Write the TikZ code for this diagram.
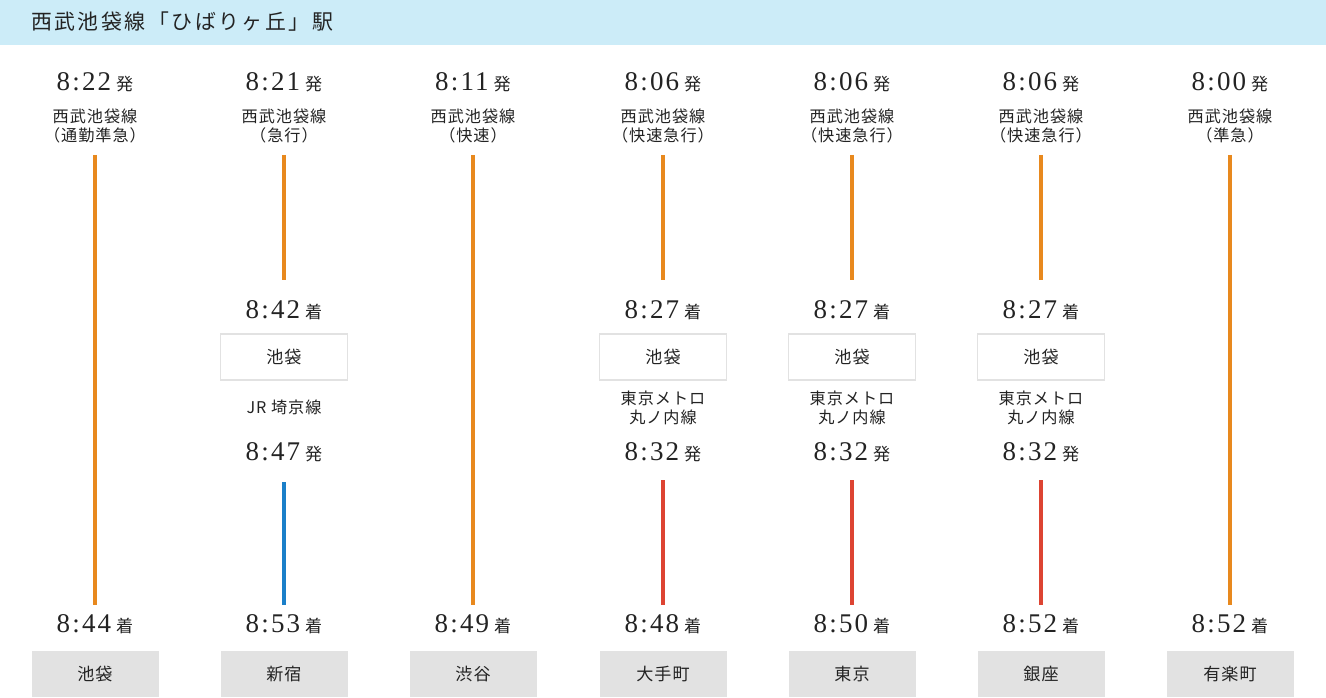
\documentclass[tikz,border=0pt]{standalone}
\usepackage{fontspec}
\setmainfont{Liberation Serif}[LetterSpace=8]
\newfontfamily\jp{Noto Sans CJK JP}[Scale=0.95,LetterSpace=6]
\newfontfamily\jpt{Noto Sans CJK JP}[Scale=0.95,LetterSpace=12]
\definecolor{hdr}{RGB}{204,236,248}
\definecolor{lor}{RGB}{232,137,30}
\definecolor{lbl}{RGB}{26,127,201}
\definecolor{lrd}{RGB}{221,68,50}
\definecolor{gbox}{RGB}{226,226,226}
\definecolor{tx}{RGB}{35,35,35}
\begin{document}
\begin{tikzpicture}[x=1pt,y=-1pt,
  tm/.style={text=tx,font=\fontsize{27}{27}\selectfont,inner sep=0},
  lab/.style={text=tx,font=\jp\fontsize{17}{19}\selectfont,align=center,inner sep=0},
  seg/.style={line width=4pt},
  wbox/.style={draw=gbox,line width=1.2pt,minimum width=127pt,minimum height=46pt,text=tx,font=\jp\fontsize{18}{18}\selectfont,inner sep=0},
  gb/.style={fill=gbox,minimum width=127pt,minimum height=46pt,text=tx,font=\jp\fontsize{18}{18}\selectfont,inner sep=0}]
\useasboundingbox (0,0) rectangle (1326,698);
\fill[hdr] (0,0) rectangle (1326,45);
\node[anchor=west,text=tx,font=\jpt\fontsize{22}{22}\selectfont,inner sep=0] (title) at (31,22) {西武池袋線「ひばりヶ丘」駅};
\newcommand\tme[2]{#1\hspace{5pt}{\jp\fontsize{18}{18}\selectfont #2}}
\foreach \i/\x/\dep/\typ/\arr/\dest in {1/95/8:22/通勤準急/8:44/池袋,3/473/8:11/快速/8:49/渋谷,7/1230/8:00/準急/8:52/有楽町}{
  \node[tm] (d\i) at (\x,82) {\tme{\dep}{発}};
  \node[lab] (l\i) at (\x,126) {西武池袋線\\（\typ）};
  \node[tm] (a\i) at (\x,624) {\tme{\arr}{着}};
  \node[gb] (b\i) at (\x,674) {\dest};
  \coordinate (s\i) at (\x,155); \coordinate (e\i) at (\x,605);
  \draw[seg,lor] (s\i) -- (e\i);
}
\node[tm] (d2) at (284,82) {\tme{8:21}{発}};
\node[lab] (l2) at (284,126) {西武池袋線\\（急行）};
\coordinate (s2) at (284,155); \coordinate (m2) at (284,280);
\draw[seg,lor] (s2) -- (m2);
\node[tm] (t2) at (284,310) {\tme{8:42}{着}};
\node[wbox] (x2) at (284,357) {池袋};
\node[lab] (r2) at (284,407) {JR 埼京線};
\node[tm] (u2) at (284,452) {\tme{8:47}{発}};
\coordinate (n2) at (284,482); \coordinate (e2) at (284,605);
\draw[seg,lbl] (n2) -- (e2);
\node[tm] (a2) at (284,624) {\tme{8:53}{着}};
\node[gb] (b2) at (284,674) {新宿};
\foreach \i/\x/\arr/\dest in {4/663/8:48/大手町,5/852/8:50/東京,6/1041/8:52/銀座}{
  \node[tm] (d\i) at (\x,82) {\tme{8:06}{発}};
  \node[lab] (l\i) at (\x,126) {西武池袋線\\（快速急行）};
  \coordinate (s\i) at (\x,155); \coordinate (m\i) at (\x,280);
  \draw[seg,lor] (s\i) -- (m\i);
  \node[tm] (t\i) at (\x,310) {\tme{8:27}{着}};
  \node[wbox] (x\i) at (\x,357) {池袋};
  \node[lab] (r\i) at (\x,408) {東京メトロ\\丸ノ内線};
  \node[tm] (u\i) at (\x,452) {\tme{8:32}{発}};
  \coordinate (n\i) at (\x,480); \coordinate (e\i) at (\x,605);
  \draw[seg,lrd] (n\i) -- (e\i);
  \node[tm] (a\i) at (\x,624) {\tme{\arr}{着}};
  \node[gb] (b\i) at (\x,674) {\dest};
}
\end{tikzpicture}
\end{document}
